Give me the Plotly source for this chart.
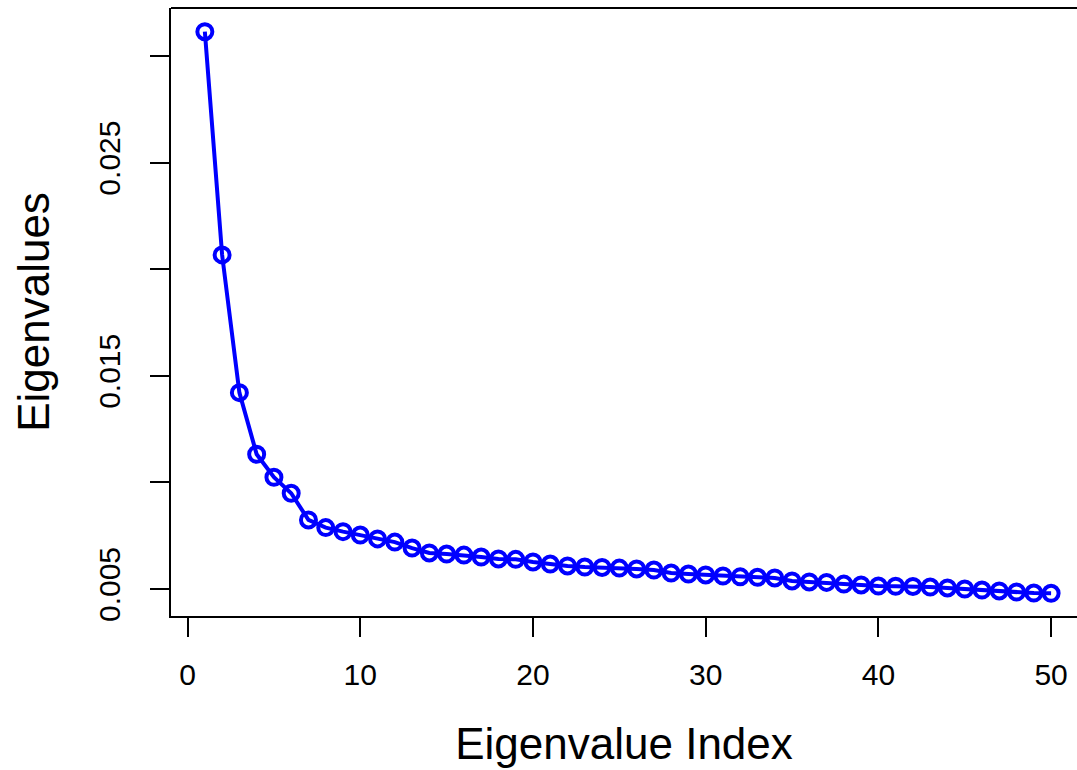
import plotly.graph_objects as go

# eigenvalues
index = list(range(1, 51))
eigenvalues = [0.03114, 0.02067, 0.01421, 0.01132, 0.01024, 0.00949, 0.00824, 0.00788, 0.00769, 0.00753,
               0.00735, 0.00720, 0.00692, 0.00669, 0.00664, 0.00659, 0.00650, 0.00641, 0.00639, 0.00627,
               0.00617, 0.00608, 0.00603, 0.00601, 0.00598, 0.00594, 0.00589, 0.00575, 0.00570, 0.00566,
               0.00561, 0.00557, 0.00555, 0.00552, 0.00538, 0.00533, 0.00531, 0.00523, 0.00519, 0.00514,
               0.00513, 0.00512, 0.00509, 0.00505, 0.00500, 0.00495, 0.00491, 0.00486, 0.00481, 0.00480]

x_ticks = [0, 10, 20, 30, 40, 50]
y_ticks = [0.005, 0.010, 0.015, 0.020, 0.025, 0.030]
y_ticktext = ['0.005', '', '0.015', '', '0.025', '']

fig = go.Figure()
fig.add_trace(go.Scatter(
    x=index, y=eigenvalues, mode='lines+markers',
    line=dict(color='#0000ff', width=4),
    marker=dict(symbol='circle-open', size=15, color='#0000ff', line=dict(width=4)),
    showlegend=False,
))

font = 'Liberation Sans, Arial, sans-serif'
fig.update_layout(
    width=1077, height=770,
    margin=dict(l=171, r=0, t=8, b=154),
    paper_bgcolor='white', plot_bgcolor='white',
    font=dict(family=font, color='black'),
    xaxis=dict(
        range=[-0.96, 51.5], tickvals=x_ticks, ticks='outside', ticklen=19, tickwidth=1.5,
        tickcolor='black', showline=True, linecolor='black', linewidth=2, showgrid=False,
        zeroline=False, tickfont=dict(size=30), ticklabelstandoff=12,
        title=dict(text='Eigenvalue Index', font=dict(size=44), standoff=38),
    ),
    yaxis=dict(
        range=[0.003734, 0.03225], tickvals=y_ticks, ticktext=y_ticktext, ticks='outside',
        ticklen=19, tickwidth=1.5, tickcolor='black', showline=True, linecolor='black',
        linewidth=2, showgrid=False, zeroline=False, tickangle=-90, tickfont=dict(size=30),
        ticklabelstandoff=18,
        title=dict(text='Eigenvalues', font=dict(size=44), standoff=30),
    ),
)
# top border of the box (right side falls outside the picture)
fig.add_shape(type='line', xref='paper', yref='paper', x0=0, x1=1, y0=1, y1=1,
              line=dict(color='black', width=2))

fig.write_html('out.html', config={'displayModeBar': False},
               post_script="document.body.style.margin='0';")
